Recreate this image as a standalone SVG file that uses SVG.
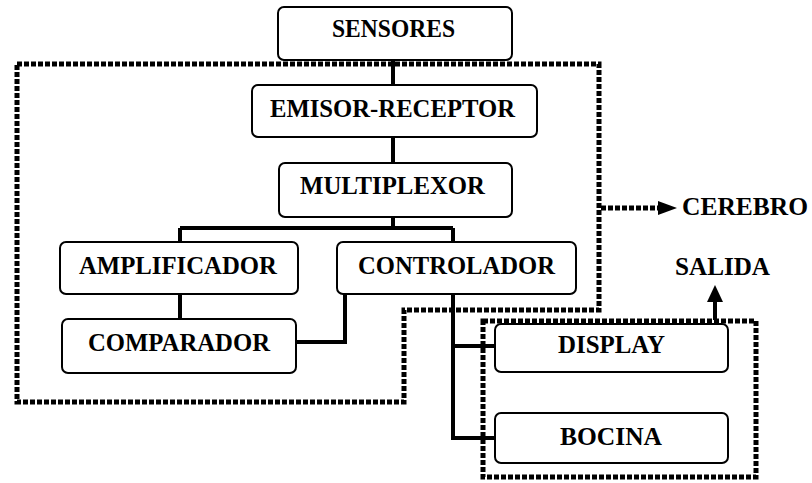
<svg xmlns="http://www.w3.org/2000/svg" width="812" height="483" viewBox="0 0 812 483">
<defs>
<style>
.box{fill:#fff;stroke:#000;stroke-width:2}
.t{font-family:"Liberation Serif","Times New Roman",serif;font-weight:bold;font-size:25px;fill:#000}
.ln{fill:none;stroke:#000;stroke-width:4}
.dot{fill:none;stroke:#000;stroke-width:5;stroke-dasharray:5 2}
</style>
</defs>
<rect width="812" height="483" fill="#fff"/>
<g id="groups">
<path class="dot" d="M17,64 H599 V310 H404 V402 H17 Z"/>
<path class="dot" d="M483,321 H756 V477 H483 Z"/>
</g>
<g id="connectors">
<path class="ln" d="M393,60 V85 M393,137 V163 M393,217 V228 M180,228 H453 M180,228 V242 M453,228 V242 M180,294 V319"/>
<path class="ln" d="M290,342 H345 V283"/>
<path class="ln" d="M453,294 V438 H495 M453,346 H495"/>
<path class="dot" d="M601,208 H660"/>
<polygon points="658,201 677,208 658,215"/>
<path class="ln" d="M715,320 V300"/>
<polygon points="707,302 715,285 723,302"/>
</g>
<g id="sensores"><rect class="box" x="278" y="7" width="234" height="53" rx="6"/><text class="t" x="332" y="37" textLength="123" lengthAdjust="spacingAndGlyphs">SENSORES</text></g>
<g id="emisor"><rect class="box" x="252" y="85" width="285" height="52" rx="6"/><text class="t" x="270" y="117" textLength="245" lengthAdjust="spacingAndGlyphs">EMISOR-RECEPTOR</text></g>
<g id="multiplexor"><rect class="box" x="279" y="163" width="233" height="54" rx="6"/><text class="t" x="300" y="194" textLength="185" lengthAdjust="spacingAndGlyphs">MULTIPLEXOR</text></g>
<g id="amplificador"><rect class="box" x="60" y="242" width="238" height="52" rx="6"/><text class="t" x="79" y="274" textLength="198" lengthAdjust="spacingAndGlyphs">AMPLIFICADOR</text></g>
<g id="controlador"><rect class="box" x="337" y="242" width="239" height="52" rx="6"/><text class="t" x="358" y="274" textLength="197" lengthAdjust="spacingAndGlyphs">CONTROLADOR</text></g>
<g id="comparador"><rect class="box" x="62" y="319" width="234" height="54" rx="6"/><text class="t" x="88" y="351" textLength="182" lengthAdjust="spacingAndGlyphs">COMPARADOR</text></g>
<g id="display"><rect class="box" x="495" y="324" width="233" height="48" rx="6"/><text class="t" x="558" y="353" textLength="107" lengthAdjust="spacingAndGlyphs">DISPLAY</text></g>
<g id="bocina"><rect class="box" x="495" y="413" width="233" height="50" rx="6"/><text class="t" x="560" y="445" textLength="102" lengthAdjust="spacingAndGlyphs">BOCINA</text></g>
<g id="cerebro"><text class="t" x="682" y="215" textLength="126" lengthAdjust="spacingAndGlyphs">CEREBRO</text></g>
<g id="salida"><text class="t" x="675" y="275" textLength="95" lengthAdjust="spacingAndGlyphs">SALIDA</text></g>
</svg>
